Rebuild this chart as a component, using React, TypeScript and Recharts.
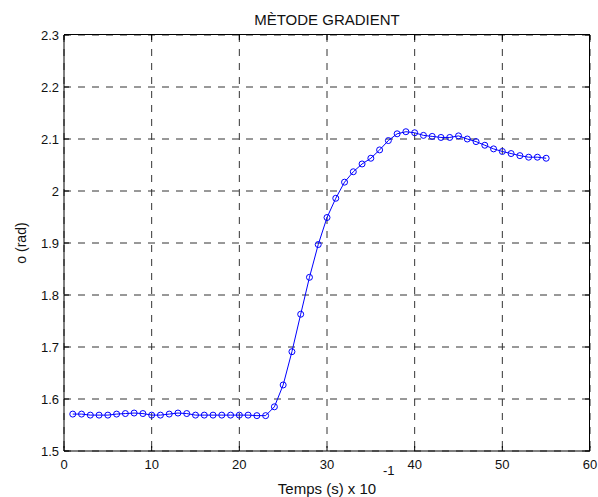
import { CartesianGrid, Line, LineChart, XAxis, YAxis } from "recharts";

// time steps (x 10^-1 s)
const temps = [
  1, 2, 3, 4, 5, 6, 7, 8, 9, 10, 11, 12, 13, 14, 15, 16, 17, 18, 19, 20,
  21, 22, 23, 24, 25, 26, 27, 28, 29, 30, 31, 32, 33, 34, 35, 36, 37, 38, 39, 40,
  41, 42, 43, 44, 45, 46, 47, 48, 49, 50, 51, 52, 53, 54, 55,
];

// angle (rad)
const angle = [
  1.571, 1.571, 1.569, 1.569, 1.569, 1.571, 1.572, 1.573, 1.572, 1.569,
  1.569, 1.571, 1.573, 1.572, 1.569, 1.569, 1.569, 1.569, 1.569, 1.569,
  1.569, 1.568, 1.568, 1.585, 1.627, 1.691, 1.763, 1.834, 1.897, 1.949,
  1.986, 2.017, 2.037, 2.052, 2.063, 2.079, 2.097, 2.110, 2.114, 2.112,
  2.107, 2.105, 2.103, 2.103, 2.106, 2.100, 2.095, 2.088, 2.081, 2.076,
  2.072, 2.068, 2.065, 2.065, 2.063,
];

const xTicks = [0, 10, 20, 30, 40, 50, 60];
const yTicks = [1.5, 1.6, 1.7, 1.8, 1.9, 2, 2.1, 2.2, 2.3];

const data = temps.map((t, i) => ({ t, v: angle[i] }));

const font = "'Liberation Sans', Arial, sans-serif";

// plot box (from margins / axis sizes below)
const W = 598;
const H = 497;
const LEFT = 64;
const RIGHT = 590;
const TOP = 35;
const XAXIS_H = 46;
const BOTTOM = H - XAXIS_H;

// MATLAB style: ticks point inward, on all four sides
const BottomTick = (props: any) => {
  const { x, y, payload } = props;
  return (
    <g>
      <line x1={x} y1={y} x2={x} y2={y - 5} stroke="#000" />
      <line x1={x} y1={TOP} x2={x} y2={TOP + 5} stroke="#000" />
      <text x={x} y={y + 18} textAnchor="middle" fontSize={13} fontFamily={font} fill="#111">
        {payload.value}
      </text>
    </g>
  );
};

const LeftTick = (props: any) => {
  const { x, y, payload } = props;
  return (
    <g>
      <line x1={x} y1={y} x2={x + 5} y2={y} stroke="#000" />
      <line x1={RIGHT} y1={y} x2={RIGHT - 5} y2={y} stroke="#000" />
      <text x={x - 5} y={y + 5} textAnchor="end" fontSize={13} fontFamily={font} fill="#111">
        {payload.value}
      </text>
    </g>
  );
};

const App = () => {
  return (
    <div style={{ position: "absolute", left: 0, top: 0, width: W, height: H, background: "#fff" }}>
      <LineChart width={W} height={H} data={data} margin={{ top: TOP, right: W - RIGHT, bottom: 0, left: 0 }}>
        <CartesianGrid stroke="#333" strokeDasharray="7 7" />
        <XAxis
          dataKey="t"
          type="number"
          domain={[0, 60]}
          ticks={xTicks}
          height={XAXIS_H}
          stroke="#000"
          tickSize={0}
          tickMargin={0}
          tick={<BottomTick />}
          label={{
            content: () => {
              const cx = (LEFT + RIGHT) / 2;
              return (
                <g fontFamily={font} fill="#111">
                  <text x={cx} y={BOTTOM + 43} textAnchor="middle" fontSize={15}>
                    Temps (s) x 10
                  </text>
                  <text x={cx + 56} y={BOTTOM + 24} textAnchor="start" fontSize={13}>
                    -1
                  </text>
                </g>
              );
            },
          }}
        />
        <YAxis
          type="number"
          domain={[1.5, 2.3]}
          ticks={yTicks}
          width={LEFT}
          stroke="#000"
          tickSize={0}
          tickMargin={0}
          tick={<LeftTick />}
          label={{
            content: () => {
              const cy = (TOP + BOTTOM) / 2;
              return (
                <g fontFamily={font} fill="#111">
                  <text x={(LEFT + RIGHT) / 2} y={25} textAnchor="middle" fontSize={15}>
                    MÈTODE GRADIENT
                  </text>
                  <text x={26} y={cy} transform={`rotate(-90, 26, ${cy})`} textAnchor="middle" fontSize={14}>
                    o (rad)
                  </text>
                </g>
              );
            },
          }}
        />
        <Line
          dataKey="v"
          stroke="#0000ff"
          strokeWidth={1}
          dot={{ r: 3, stroke: "#0000ff", strokeWidth: 1, fill: "none" }}
          isAnimationActive={false}
        />
      </LineChart>
      {/* top and right edges of the axes box */}
      <div
        style={{
          position: "absolute",
          left: LEFT,
          top: TOP - 1,
          width: RIGHT - LEFT,
          height: BOTTOM - TOP + 1,
          borderTop: "1px solid #000",
          borderRight: "1px solid #000",
          boxSizing: "border-box",
          pointerEvents: "none",
          zIndex: 10,
        }}
      />
    </div>
  );
};

export default App;
